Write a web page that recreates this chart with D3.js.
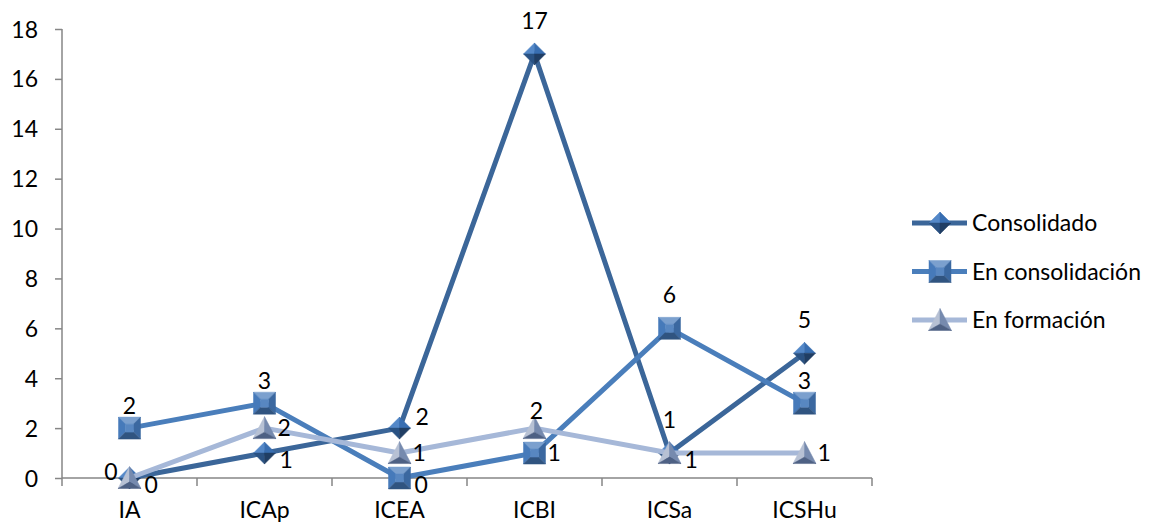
<!DOCTYPE html>
<meta charset="utf-8">
<head>
<style>
  body { margin: 0; background: #fff; }
  svg { display: block; }
  text { font-family: Lato, "Open Sans", sans-serif; font-size: 23px; fill: #000; }
  .axis path, .axis line { stroke: #868686; stroke-width: 1.5; }
</style>
</head>
<body>
<div id="chart"></div>
<script src="https://cdn.jsdelivr.net/npm/d3@7"></script>
<script>
  // data
  var categories = ["IA", "ICAp", "ICEA", "ICBI", "ICSa", "ICSHu"];
  var consolidado = [0, 1, 2, 17, 1, 5];
  var enConsolidacion = [2, 3, 0, 1, 6, 3];
  var enFormacion = [0, 2, 1, 2, 1, 1];
  var yTicks = [0, 2, 4, 6, 8, 10, 12, 14, 16, 18];

  // where each value label sits next to its point
  var labelsConsolidado = ["rb", "rb", "ra", "A", "A", "A"];
  var labelsConsolidacion = ["a", "a", "rb", "r", "A", "a"];
  var labelsFormacion = ["l", "r", "r", "t", "rb", "r"];

  var series = [
    { name: "Consolidado", values: consolidado, labels: labelsConsolidado, color: "#3B6699", marker: "diamond" },
    { name: "En consolidación", values: enConsolidacion, labels: labelsConsolidacion, color: "#4A7EBB", marker: "square" },
    { name: "En formación", values: enFormacion, labels: labelsFormacion, color: "#A6B8D8", marker: "triangle" }
  ];

  var width = 1155, height = 526;
  var plotLeft = 62, plotRight = 872, plotTop = 29, plotBottom = 478;

  var svg = d3.select("#chart").append("svg")
    .attr("width", width)
    .attr("height", height);

  var x = d3.scaleBand().domain(categories).range([plotLeft, plotRight]);
  var y = d3.scaleLinear().domain([0, 18]).range([plotBottom, plotTop]);
  var cx = function (c) { return x(c) + x.bandwidth() / 2; };

  // y axis
  var yAxis = svg.append("g")
    .attr("class", "axis")
    .attr("transform", "translate(" + plotLeft + ",0)")
    .call(d3.axisLeft(y).tickValues(yTicks).tickSize(7).tickPadding(17));
  yAxis.select(".domain").attr("d", "M0," + plotTop + "V" + plotBottom);
  yAxis.attr("font-size", null).attr("font-family", null);
  yAxis.selectAll("text").attr("dy", "0.35em");

  // x axis with ticks between categories
  var xAxis = svg.append("g")
    .attr("class", "axis")
    .attr("transform", "translate(0," + plotBottom + ")");
  xAxis.append("line").attr("x1", plotLeft).attr("x2", plotRight);
  xAxis.selectAll(".tk")
    .data(d3.range(categories.length + 1))
    .enter().append("line")
    .attr("x1", function (i) { return plotLeft + i * x.step(); })
    .attr("x2", function (i) { return plotLeft + i * x.step(); })
    .attr("y1", 0).attr("y2", 8);
  xAxis.selectAll(".lbl")
    .data(categories)
    .enter().append("text")
    .attr("x", cx)
    .attr("y", 40)
    .attr("text-anchor", "middle")
    .text(function (d) { return d; });

  // facet shading for the markers
  function shade(c, k) {
    var h = d3.hsl(c);
    h.l = Math.max(0, Math.min(1, h.l * k));
    return h.formatHex();
  }

  function drawMarker(g, type, px, py) {
    var m = g.append("g").attr("transform", "translate(" + px + "," + py + ")");
    var faces;
    if (type === "diamond") {
      var base = "#31609A", r = 11;
      faces = [
        { p: [[0, 0], [-r, 0], [0, -r]], c: shade(base, 1.4) },
        { p: [[0, 0], [0, -r], [r, 0]], c: shade(base, 1.15) },
        { p: [[0, 0], [-r, 0], [0, r]], c: shade(base, 0.85) },
        { p: [[0, 0], [r, 0], [0, r]], c: shade(base, 0.65) }
      ];
    } else if (type === "square") {
      var base2 = "#4274B2", s = 11, k = 4;
      faces = [
        { p: [[-s, -s], [s, -s], [k, -k], [-k, -k]], c: shade(base2, 1.35) },
        { p: [[-s, -s], [-s, s], [-k, k], [-k, -k]], c: shade(base2, 1.05) },
        { p: [[s, -s], [s, s], [k, k], [k, -k]], c: shade(base2, 0.9) },
        { p: [[-s, s], [s, s], [k, k], [-k, k]], c: shade(base2, 0.72) },
        { p: [[-k, -k], [k, -k], [k, k], [-k, k]], c: shade(base2, 1.15) }
      ];
    } else {
      var base3 = "#8A9BBA", t = 11.5;
      faces = [
        { p: [[0, -t], [-t, t - 1], [0, t * 0.35]], c: shade(base3, 1.22) },
        { p: [[0, -t], [t, t - 1], [0, t * 0.35]], c: shade(base3, 0.9) },
        { p: [[-t, t - 1], [t, t - 1], [0, t * 0.35]], c: shade(base3, 0.65) }
      ];
    }
    m.selectAll("path").data(faces).enter().append("path")
      .attr("d", function (f) { return "M" + f.p.join("L") + "Z"; })
      .attr("fill", function (f) { return f.c; })
      .attr("stroke", function (f) { return f.c; })
      .attr("stroke-width", 0.5);
  }

  var line = d3.line()
    .x(function (d, i) { return cx(categories[i]); })
    .y(function (d) { return y(d); });

  // label offsets: [dx, dy, anchor]
  var place = {
    r: [13, 8, "start"],
    rb: [15, 15, "start"],
    ra: [16, -3, "start"],
    a: [0, -14, "middle"],
    A: [0, -25, "middle"],
    t: [2, -9, "middle"],
    l: [-12, 2, "end"]
  };

  series.forEach(function (s) {
    var g = svg.append("g");
    g.append("path")
      .datum(s.values)
      .attr("d", line)
      .attr("fill", "none")
      .attr("stroke", s.color)
      .attr("stroke-width", 5)
      .attr("stroke-linejoin", "round");
    s.values.forEach(function (v, i) {
      drawMarker(g, s.marker, cx(categories[i]), y(v));
    });
  });

  // value labels on top
  series.forEach(function (s) {
    s.values.forEach(function (v, i) {
      var p = place[s.labels[i]];
      svg.append("text")
        .attr("x", cx(categories[i]) + p[0])
        .attr("y", y(v) + p[1])
        .attr("text-anchor", p[2])
        .text(v);
    });
  });

  // legend
  var legend = svg.append("g");
  series.forEach(function (s, i) {
    var ly = 223 + i * 48.5;
    legend.append("line")
      .attr("x1", 912).attr("x2", 967)
      .attr("y1", ly).attr("y2", ly)
      .attr("stroke", s.color)
      .attr("stroke-width", 5);
    drawMarker(legend, s.marker, 940, ly);
    legend.append("text")
      .attr("x", 972)
      .attr("y", ly)
      .attr("dy", "0.35em")
      .text(s.name);
  });
</script>
</body>
